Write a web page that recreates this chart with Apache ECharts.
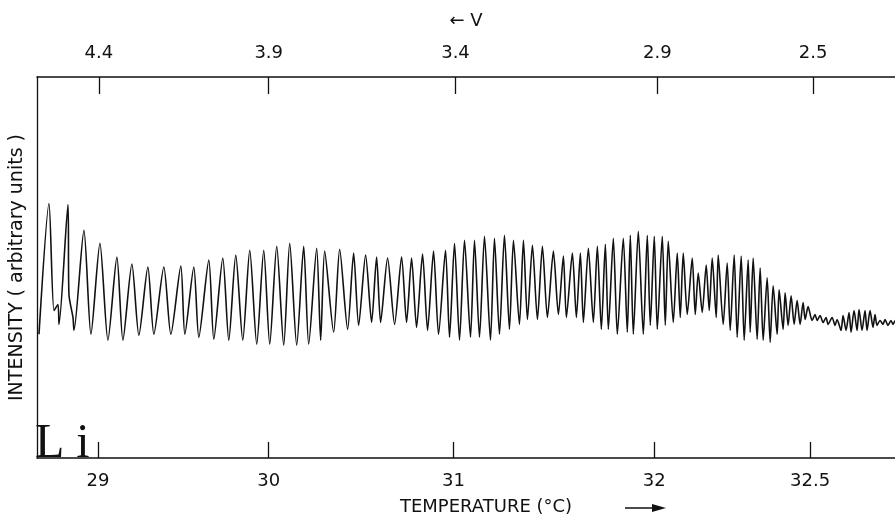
<!DOCTYPE html>
<html>
<head>
<meta charset="utf-8">
<script src="https://cdn.jsdelivr.net/npm/echarts@6/dist/echarts.min.js"></script>
<style>
  html, body { margin: 0; padding: 0; background: #fff; }
  #chart { width: 895px; height: 521px; }
</style>
</head>
<body>
<div id="chart"></div>
<script>
// recorder trace: [position along scan, intensity]
var scanA = [
  [2,125],[12,257],[17,149],[21,155],[22,135],[31,256],[32,165],[36,142],[37,129],
  [47,230],[54,125],[63,217],[71,119],[80,203],[86,119],[95,196],[102,124],
  [111,193],[117,125],[127,193],[134,125],[144,194],[148,125],[157,193],[162,122],
  [172,200],[177,120],[186,202],[192,119],[199,205],[206,119],[213,210],[220,115],
  [227,210],[233,115],[240,214],[247,114],[253,217],[260,114]
];
var scanB = [
  [267,214],[272,115],[280,212],[284,119],[288,209],[297,127],[303,211],[311,130],
  [317,207],[322,134],[329,205],[335,137],[340,203],[344,137],[351,202],[358,135],
  [365,203],[370,137],[375,202],[380,132],[386,206],[391,129],[397,209],[402,125],
  [409,210],[413,122],[418,217],[423,119],[428,220],[434,122],[438,220],[443,122],
  [448,224],[454,119],[458,222],[463,125],[468,225],[473,130],[477,220],[483,135],
  [487,220],[491,140],[496,215],[501,140],[506,214],[511,142],[517,209],[522,145],
  [527,204],[530,142],[536,207],[540,142]
];
var scanC = [
  [544,207],[547,137],[552,212],[557,137],[561,214],[565,130],[569,216],[572,130],
  [577,222],[581,125],[587,222],[591,127],[594,225],[597,125],[602,229],[607,125],
  [611,225],[614,134],[618,224],[621,130],[626,224],[629,134],[632,219],[637,137],
  [641,207],[644,142],[647,207],[651,145],[656,202],[659,145],[662,187],[666,147],
  [670,195],[673,149],[676,202],[680,142],[682,205],[687,135],[691,197],[694,129],
  [698,205],[701,122],[705,204],[708,119],[712,200],[714,127],[717,202],[721,120],
  [724,192],[727,119],[731,182],[734,117],[737,174],[741,125],[743,170],[747,130],
  [749,167],[752,134],[755,164],[758,135],[761,159],[764,135],[767,157],[769,140],
  [772,153],[776,139],[779,145],[781,139],[784,144],[787,137],[790,142],[792,135],
  [796,142],[799,134],[801,140],[805,129],[807,144],[810,129],[813,147],[815,127],
  [818,149],[821,129],[823,150],[826,129],[829,149],[831,129],[834,149],[837,132],
  [839,145],[841,134],[844,139],[847,135],[849,140],[852,134],[855,139],[857,135],
  [859,139]
];

var tempTickPos = [61, 232, 417, 618, 774];
var tempLabels = ['29', '30', '31', '32', '32.5'];
var voltTickPos = [62, 232, 419, 621, 777];
var voltLabels = ['4.4', '3.9', '3.4', '2.9', '2.5'];

var trace = scanA.concat(scanB, scanC);

var chart = echarts.init(document.getElementById('chart'));
var font = 'DejaVu Sans';

chart.setOption({
  animation: false,
  backgroundColor: '#fff',
  grid: { left: 36, right: 0, top: 77, bottom: 59 },
  xAxis: [{
    type: 'value', position: 'bottom', min: 0, max: 859,
    name: 'TEMPERATURE (°C)', nameLocation: 'middle', nameGap: 40,
    nameTextStyle: { color: '#111', fontFamily: font, fontSize: 18, padding: [0, 0, 0, 40] },
    axisLine: { show: true, lineStyle: { color: '#111', width: 1.5 } },
    axisTick: { show: true, inside: true, length: 16, customValues: tempTickPos, lineStyle: { color: '#111', width: 1.3 } },
    axisLabel: {
      customValues: tempTickPos, margin: 14, color: '#111', fontFamily: font, fontSize: 18,
      formatter: function (v) { return tempLabels[tempTickPos.indexOf(v)]; }
    },
    splitLine: { show: false }
  }, {
    type: 'value', position: 'top', min: 0, max: 859,
    name: '\u2190 V', nameLocation: 'middle', nameGap: 47,
    nameTextStyle: { color: '#111', fontFamily: font, fontSize: 18 },
    axisLine: { show: true, lineStyle: { color: '#111', width: 1.5 } },
    axisTick: { show: true, inside: true, length: 17, customValues: voltTickPos, lineStyle: { color: '#111', width: 1.3 } },
    axisLabel: {
      customValues: voltTickPos, margin: 15, color: '#111', fontFamily: font, fontSize: 18,
      formatter: function (v) { return voltLabels[voltTickPos.indexOf(v)]; }
    },
    splitLine: { show: false }
  }],
  yAxis: {
    type: 'value', min: 0, max: 385,
    name: 'INTENSITY ( arbitrary units )', nameLocation: 'middle', nameGap: 10,
    nameTextStyle: { color: '#111', fontFamily: font, fontSize: 19 },
    axisLine: { show: true, lineStyle: { color: '#111', width: 1.3 } },
    axisTick: { show: false },
    axisLabel: { show: false },
    splitLine: { show: false }
  },
  series: [{
    type: 'line',
    data: trace,
    showSymbol: false,
    smooth: 0.25,
    lineStyle: { color: '#111', width: 1.6 }
  }],
  graphic: [
    { type: 'text', left: 35, top: 420, style: { text: 'L i', fill: '#111', font: '48px "Liberation Serif"' } },
    { type: 'line', shape: { x1: 625, y1: 508, x2: 656, y2: 508 }, style: { stroke: '#111', lineWidth: 1.5 } },
    { type: 'polygon', shape: { points: [[652, 504], [666, 508], [652, 512]] }, style: { fill: '#111' } }
  ]
});
</script>
</body>
</html>
